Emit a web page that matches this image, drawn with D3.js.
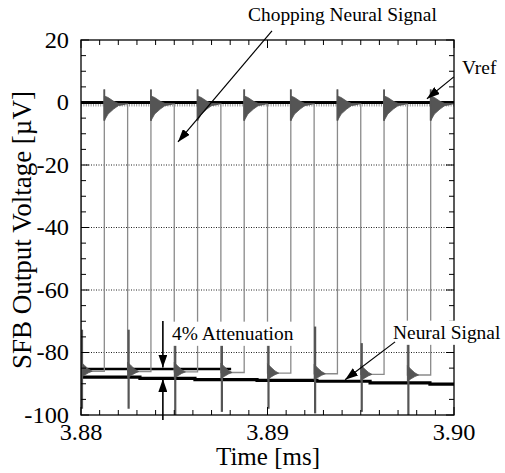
<!DOCTYPE html>
<html>
<head>
<meta charset="utf-8">
<script src="https://d3js.org/d3.v7.min.js"></script>
<style>
body { margin: 0; background: #fff; }
svg text { font-family: "Liberation Serif", "Times New Roman", serif; fill: #000; }
</style>
</head>
<body>
<div id="chart"></div>
<script>
var w = 505;
var h = 473;

// axis ticks
var xTicks = [3.88, 3.89, 3.90];
var yTicks = [20, 0, -20, -40, -60, -80, -100];
var gridValues = [-20, -40, -60, -80];

// chopping neural signal: square wave edges (ms) and levels (uV)
var fallTimes = [3.8800, 3.8825, 3.8850, 3.8875, 3.8900, 3.8925, 3.8950, 3.8975];
var riseTimes = [3.88125, 3.88375, 3.88625, 3.88875, 3.89125, 3.89375, 3.89625, 3.89875];
var lowLevels = [-86.0, -86.1, -86.2, -86.4, -86.6, -86.8, -87.0, -87.2];
var highLevel = -0.5;
var riseOvershoot = 4.2;
var spikeTop = [-72.7, -72.7, -73.7, -73.7, -75.0, -71.7, -77.0, -77.0];
var spikeBottom = [-98, -98, -100, -99, -98, -99.5, -99, -100];

// ringing envelope after each rising edge (offsets from high level)
var ringHighDt = [0, 0.0002, 0.0005, 0.00075, 0.0011];
var ringHighUp = [2.6, 2.1, 0.9, 0.2, 0];
var ringHighDown = [-5.3, -3.2, -1.6, -0.5, -0.1];
// ringing envelope after each falling edge (offsets from low level)
var ringLowDt = [0, 0.0002, 0.0004, 0.0006];
var ringLowUp = [3.0, 1.8, 0.7, 0];
var ringLowDown = [-2.0, -1.2, -0.5, 0];

// neural signal (slow staircase)
var neuralTimes = [3.8800, 3.88316, 3.88611, 3.88944, 3.89265, 3.89550, 3.89871, 3.9000];
var neuralValues = [-87.9, -88.3, -88.7, -88.9, -89.2, -89.7, -90.1, -90.1];

var vrefValue = 0;
var attenRefValue = -85.3;
var attenRefEnd = 3.88805;
var attenArrowTime = 3.88439;

var svg = d3.select("#chart").append("svg")
    .attr("width", w)
    .attr("height", h);

var margin = {top: 40, right: 51, bottom: 58, left: 81},
    width = w - margin.left - margin.right,
    height = h - margin.top - margin.bottom;

var x = d3.scaleLinear().domain([3.88, 3.90]).range([margin.left, margin.left + width]);
var y = d3.scaleLinear().domain([-100, 20]).range([margin.top + height, margin.top]);

var defs = svg.append("defs");
defs.append("clipPath").attr("id", "plotclip")
  .append("rect")
    .attr("x", margin.left).attr("y", margin.top)
    .attr("width", width).attr("height", height);
defs.append("marker")
    .attr("id", "head")
    .attr("viewBox", "0 0 13 9")
    .attr("refX", 13).attr("refY", 4.5)
    .attr("markerWidth", 13).attr("markerHeight", 9)
    .attr("markerUnits", "userSpaceOnUse")
    .attr("orient", "auto")
  .append("path")
    .attr("d", "M0,0 L13,4.5 L0,9 Z")
    .attr("fill", "#000");

// dotted grid
svg.append("g").selectAll("line")
  .data(gridValues)
  .enter().append("line")
    .attr("x1", margin.left).attr("x2", margin.left + width)
    .attr("y1", function(d) { return y(d); })
    .attr("y2", function(d) { return y(d); })
    .attr("stroke", "#222")
    .attr("stroke-width", 1)
    .attr("stroke-dasharray", "1,1.5");

var plot = svg.append("g").attr("clip-path", "url(#plotclip)");

// Vref and neural signal (thick black)
plot.append("line")
    .attr("x1", x(3.88)).attr("x2", x(3.90))
    .attr("y1", y(vrefValue)).attr("y2", y(vrefValue))
    .attr("stroke", "#000").attr("stroke-width", 3);

var neural = neuralTimes.map(function(t, i) { return [t, neuralValues[i]]; });
plot.append("path")
    .datum(neural)
    .attr("fill", "none")
    .attr("stroke", "#000")
    .attr("stroke-width", 3.2)
    .attr("d", d3.line()
      .x(function(d) { return x(d[0]); })
      .y(function(d) { return y(d[1]); })
      .curve(d3.curveStepAfter));

// reference level for the attenuation annotation
plot.append("line")
    .attr("x1", x(3.88)).attr("x2", x(attenRefEnd))
    .attr("y1", y(attenRefValue)).attr("y2", y(attenRefValue))
    .attr("stroke", "#000").attr("stroke-width", 2.6);

// noise texture of the chopped signal near Vref
plot.append("line")
    .attr("x1", x(3.88)).attr("x2", x(3.90))
    .attr("y1", y(-0.9)).attr("y2", y(-0.9))
    .attr("stroke", "#999").attr("stroke-width", 2.4)
    .attr("stroke-dasharray", "1,1.4");

// chopped square wave
var chop = [];
fallTimes.forEach(function(t, i) {
  chop.push([t, highLevel]);
  chop.push([t, lowLevels[i]]);
  chop.push([riseTimes[i], lowLevels[i]]);
  chop.push([riseTimes[i], riseOvershoot]);
  chop.push([riseTimes[i], highLevel]);
});
chop.push([3.90, highLevel]);

plot.append("path")
    .datum(chop)
    .attr("fill", "none")
    .attr("stroke", "#8a8a8a")
    .attr("stroke-width", 1.3)
    .attr("d", d3.line()
      .x(function(d) { return x(d[0]); })
      .y(function(d) { return y(d[1]); }));

// ringing after rising edges
var ringArea = d3.area()
    .x(function(d) { return x(d.t); })
    .y0(function(d) { return y(d.lo); })
    .y1(function(d) { return y(d.hi); });

riseTimes.forEach(function(t) {
  var env = ringHighDt.map(function(dt, j) {
    return {t: t + dt, hi: highLevel + ringHighUp[j], lo: highLevel + ringHighDown[j]};
  });
  plot.append("path").datum(env)
      .attr("fill", "#555").attr("stroke", "#555").attr("stroke-width", 0.8)
      .attr("d", ringArea);
  plot.append("line")
      .attr("x1", x(t)).attr("x2", x(t))
      .attr("y1", y(riseOvershoot)).attr("y2", y(highLevel + ringHighDown[0]))
      .attr("stroke", "#555").attr("stroke-width", 1.8);
});

// spikes and ringing after falling edges
fallTimes.forEach(function(t, i) {
  var env = ringLowDt.map(function(dt, j) {
    return {t: t + dt, hi: lowLevels[i] + ringLowUp[j], lo: lowLevels[i] + ringLowDown[j]};
  });
  plot.append("path").datum(env)
      .attr("fill", "#555").attr("stroke", "#555").attr("stroke-width", 0.8)
      .attr("d", ringArea);
  plot.append("line")
      .attr("x1", x(t) + 1).attr("x2", x(t) + 1)
      .attr("y1", y(spikeTop[i])).attr("y2", y(spikeBottom[i]))
      .attr("stroke", "#555").attr("stroke-width", 2.2);
});

// frame
svg.append("rect")
    .attr("x", margin.left).attr("y", margin.top)
    .attr("width", width).attr("height", height)
    .attr("fill", "none").attr("stroke", "#000").attr("stroke-width", 1.3);

// inward ticks on all four sides
var ticks = svg.append("g").attr("stroke", "#000").attr("stroke-width", 1);
x.ticks(20).forEach(function(t) {
  var len = xTicks.some(function(m) { return Math.abs(m - t) < 1e-9; }) ? 8 : 5;
  ticks.append("line").attr("x1", x(t)).attr("x2", x(t))
      .attr("y1", y(-100)).attr("y2", y(-100) - len);
  ticks.append("line").attr("x1", x(t)).attr("x2", x(t))
      .attr("y1", y(20)).attr("y2", y(20) + len);
});
y.ticks(24).forEach(function(v) {
  var len = (v % 20 === 0) ? 8 : 5;
  ticks.append("line").attr("y1", y(v)).attr("y2", y(v))
      .attr("x1", x(3.88)).attr("x2", x(3.88) + len);
  ticks.append("line").attr("y1", y(v)).attr("y2", y(v))
      .attr("x1", x(3.90)).attr("x2", x(3.90) - len);
});

// tick labels
svg.append("g").selectAll("text")
  .data(xTicks)
  .enter().append("text")
    .attr("transform", function(d) { return "translate(" + x(d) + ",440) scale(1.06,1)"; })
    .attr("text-anchor", "middle")
    .style("font-size", "23px")
    .text(function(d) { return d3.format(".2f")(d); });

svg.append("g").selectAll("text")
  .data(yTicks)
  .enter().append("text")
    .attr("transform", function(d) { return "translate(69," + (y(d) + 7.5) + ") scale(1.06,1)"; })
    .attr("text-anchor", "end")
    .style("font-size", "23px")
    .text(function(d) { return String(d); });

// axis titles
svg.append("text")
    .attr("x", 268).attr("y", 465)
    .attr("text-anchor", "middle")
    .style("font-size", "25px")
    .text("Time [ms]");

svg.append("text")
    .attr("transform", "translate(31,230) rotate(-90)")
    .attr("text-anchor", "middle")
    .style("font-size", "27px")
    .text("SFB Output Voltage [\u00b5V]");

// annotations
function label(txt, lx, ly, box) {
  var g = svg.append("g");
  var t = g.append("text")
      .attr("transform", "translate(" + lx + "," + ly + ") scale(1.08,1)")
      .style("font-size", "18px")
      .text(txt);
  if (box) {
    var bb = t.node().getBBox();
    g.insert("rect", "text")
        .attr("x", lx - 3).attr("y", ly + bb.y - 2)
        .attr("width", bb.width * 1.08 + 6).attr("height", bb.height + 4)
        .attr("fill", "#fff");
  }
  return g;
}

function arrow(x1, y1, x2, y2, sw) {
  svg.append("line")
      .attr("x1", x1).attr("y1", y1).attr("x2", x2).attr("y2", y2)
      .attr("stroke", "#000").attr("stroke-width", sw || 1.2)
      .attr("marker-end", "url(#head)");
}

label("Chopping Neural Signal", 248, 21, false);
arrow(x(3.89024), y(22.9), x(3.8852), y(-12.6));

label("Vref", 462, 74, false);
arrow(x(3.89999), y(8.2), x(3.89855), y(1.2));

label("4% Attenuation", 172, 340, true);
arrow(x(attenArrowTime), y(-69.9), x(attenArrowTime), y(attenRefValue) - 1.5, 1.6);
arrow(x(attenArrowTime), 420, x(attenArrowTime), y(neuralValues[0]) + 1.8, 1.6);

label("Neural Signal", 393, 339, true);
arrow(x(3.89684), y(-76.6), x(3.89416), y(-88.7));
</script>
</body>
</html>
